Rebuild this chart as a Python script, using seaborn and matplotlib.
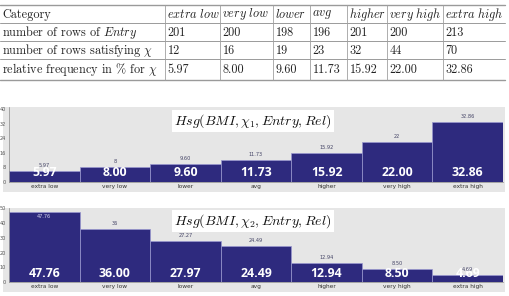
import matplotlib
matplotlib.use("Agg")
import matplotlib.pyplot as plt
import seaborn as sns
import numpy as np
from matplotlib.patches import Rectangle
from matplotlib.ticker import FixedLocator

# ---------------- data ----------------
categories = ["extra low", "very low", "lower", "avg", "higher", "very high", "extra high"]
entry_rows = [201, 200, 198, 196, 201, 200, 213]
chi_rows = [12, 16, 19, 23, 32, 44, 70]
rel_freq = [5.97, 8.00, 9.60, 11.73, 15.92, 22.00, 32.86]

chart1_values = [5.97, 8.00, 9.60, 11.73, 15.92, 22.00, 32.86]
chart1_small = ["5.97", "8", "9.60", "11.73", "15.92", "22", "32.86"]
chart1_yticks = [0, 8, 16, 24, 32, 40]

chart2_values = [47.76, 36.00, 27.97, 24.49, 12.94, 8.50, 4.69]
chart2_small = ["47.76", "36", "27.27", "24.49", "12.94", "8.50", "4.69"]
chart2_yticks = [0, 10, 20, 30, 40, 50]

row_labels = ["Category", "number of rows of $\\mathit{Entry}$",
              "number of rows satisfying $\\chi$", "relative frequency in % for $\\chi$"]
titles = ["$Hsg(BMI, \\chi_1, Entry, Rel)$", "$Hsg(BMI, \\chi_2, Entry, Rel)$"]

W, H = 509, 296
BAR = "#2e2a7e"
GRAY = "#e6e6e6"

sns.set_style("white")
fig = plt.figure(figsize=(W / 100, H / 100), dpi=100)
fig.patch.set_facecolor("white")

# low axes for gray backgrounds
bg2 = fig.add_axes([0, 0, 1, 1], zorder=0)
bg2.set_xlim(0, W)
bg2.set_ylim(H, 0)
bg2.axis("off")

# top axes for table and titles
bg = fig.add_axes([0, 0, 1, 1], zorder=3)
bg.set_xlim(0, W)
bg.set_ylim(H, 0)
bg.axis("off")
bg.patch.set_visible(False)

# ---------------- table ----------------
col_edges = [0, 165, 220, 273, 310, 347, 387, 443, 505]
row_edges = [5, 23, 41, 59, 80]
for i, y in enumerate(row_edges):
    bg.plot([0, 505], [y, y], color="#9a9a9a", lw=1.0 if i in (0, len(row_edges) - 1) else 0.7)
for x in col_edges[1:-1]:
    bg.plot([x, x], [row_edges[0], row_edges[-1]], color="#a0a0a0", lw=0.6)

TFS = 8.8
rows = [
    ["$\\mathit{" + c.replace(" ", "\\ ") + "}$" for c in categories],
    [str(v) for v in entry_rows],
    [str(v) for v in chi_rows],
    ["%.2f" % v for v in rel_freq],
]
for r in range(4):
    yc = (row_edges[r] + row_edges[r + 1]) / 2 + 0.5
    bg.text(2.5, yc, row_labels[r], fontsize=TFS, family="cmr10", math_fontfamily="cm",
            va="center", ha="left", color="#222222")
    for c in range(7):
        bg.text(col_edges[c + 1] + 2.5, yc, rows[r][c], fontsize=TFS, family="cmr10",
                math_fontfamily="cm", va="center", ha="left", color="#222222")

# ---------------- charts ----------------
def make_chart(top_px, bot_px, base_px, axtop_px, values, small, yticks, ylim_top):
    bg2.add_patch(Rectangle((3, top_px), 502, bot_px - top_px, facecolor=GRAY, edgecolor="none"))
    ax = fig.add_axes([9 / W, 1 - base_px / H, (503 - 9) / W, (base_px - axtop_px) / H], zorder=2)
    ax.set_facecolor(GRAY)
    sns.barplot(x=categories, y=values, ax=ax, color=BAR, saturation=1, width=1.0,
                edgecolor="#9a98d0", linewidth=0.5)
    ax.set_xlim(-0.5, 6.5)
    ax.set_ylim(0, ylim_top)
    ax.set_yticks(yticks)
    ax.set_yticklabels([str(t) for t in yticks])
    ax.tick_params(axis="y", labelsize=3.6, colors="#555555", length=1.5, width=0.4, pad=0.5)
    ax.tick_params(axis="x", labelsize=4.2, colors="#333333", length=0, pad=1.5)
    ax.xaxis.set_minor_locator(FixedLocator(np.arange(0.5, 6.0, 1.0)))
    ax.tick_params(axis="x", which="minor", length=2, width=0.4, color="#888888")
    ax.set_xlabel("")
    ax.set_ylabel("")
    for s in ["top", "right"]:
        ax.spines[s].set_visible(False)
    for s in ["left", "bottom"]:
        ax.spines[s].set_color("#888888")
        ax.spines[s].set_linewidth(0.5)
    px_per_unit = (base_px - axtop_px) / ylim_top
    for i, v in enumerate(values):
        ax.annotate("%.2f" % v, xy=(i, 0), xytext=(0, 1.5), textcoords="offset points",
                    ha="center", va="bottom", fontsize=8.8, fontweight="bold",
                    family="Open Sans", color="white")
        if (ylim_top - v) * px_per_unit < 8:
            ax.annotate(small[i], xy=(i, v), xytext=(0, -3.5), textcoords="offset points",
                        ha="center", va="center", fontsize=3.6, color="#d8d8f0")
        else:
            ax.annotate(small[i], xy=(i, v), xytext=(0, 4), textcoords="offset points",
                        ha="center", va="center", fontsize=3.6, color="#444466")
    return ax

ax1 = make_chart(107, 192, 181.5, 107, chart1_values, chart1_small, chart1_yticks, 41.3)
ax2 = make_chart(208, 292, 282, 208, chart2_values, chart2_small, chart2_yticks, 50.3)

for yc, t in [(121, titles[0]), (221, titles[1])]:
    bg.text(253, yc, t, fontsize=10, math_fontfamily="cm", ha="center", va="center",
            color="#111111", zorder=5,
            bbox=dict(facecolor="white", edgecolor="none", pad=1.5))

fig.savefig("out.png", dpi=100, facecolor="white")
